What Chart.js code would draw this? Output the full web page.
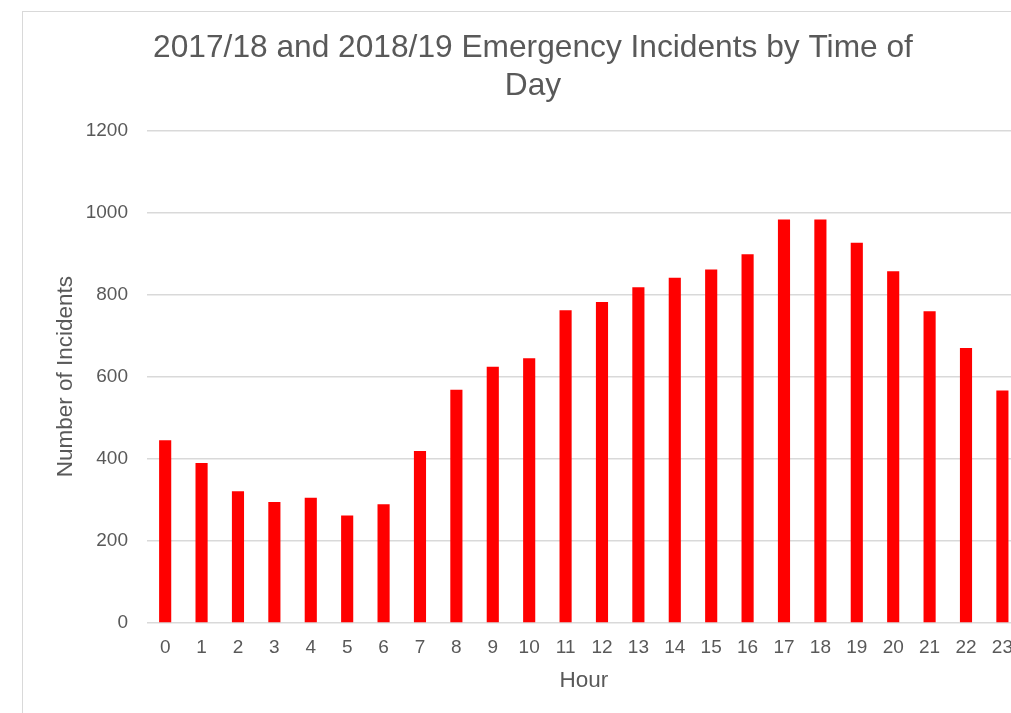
<!DOCTYPE html>
<html lang="en">
  <head>
    <meta charset="UTF-8" />
    <title>Emergency Incidents by Time of Day</title>
    <script src="https://cdn.jsdelivr.net/npm/chart.js@4.4.1/dist/chart.umd.min.js"></script>
    <style>
      html, body { margin: 0; padding: 0; background: #fff; overflow: hidden; }
      #frame {
        position: absolute;
        left: 22px;
        top: 11px;
        width: 1100px;
        height: 800px;
        border-left: 1px solid #d9d9d9;
        border-top: 1px solid #d9d9d9;
      }
      canvas { display: block; }
    </style>
  </head>
  <body>
    <div id="frame">
      <canvas id="myChart" width="1024" height="720"></canvas>
    </div>
    <script>
      const hours = ["0","1","2","3","4","5","6","7","8","9","10","11","12","13","14","15","16","17","18","19","20","21","22","23"]
      const incidents = [445, 390, 321, 295, 305, 262, 289, 419, 568, 624, 645, 762, 782, 818, 841, 861, 898, 983, 983, 926, 857, 759, 670, 566]
      const yTicks = [0, 200, 400, 600, 800, 1000, 1200]

      const grey = "#595959"
      const family = "'Liberation Sans', Arial, sans-serif"

      const ctx = document.getElementById("myChart").getContext("2d")
      const myChart = new Chart(ctx, {
        type: "bar",
        data: {
          labels: hours,
          datasets: [
            {
              label: "Incidents",
              data: incidents,
              backgroundColor: "#ff0000",
              borderWidth: 0,
              barPercentage: 1 / 3,
              categoryPercentage: 1,
            },
          ],
        },
        options: {
          responsive: false,
          animation: false,
          layout: { padding: { left: 22.4, right: 26.4, top: 0, bottom: 37.9 } },
          plugins: {
            legend: { display: false },
            tooltip: { enabled: false },
            title: {
              display: true,
              text: ["2017/18 and 2018/19 Emergency Incidents by Time of", "Day"],
              color: grey,
              font: { family, size: 31.7, weight: "normal", lineHeight: 1.18 },
              padding: { top: 17.9, bottom: 25.6 },
            },
          },
          scales: {
            x: {
              grid: { display: false, drawTicks: false },
              border: { display: false },
              ticks: { color: grey, font: { family, size: 19 }, padding: 13.6, maxRotation: 0, autoSkip: false },
              // tick padding is reserved twice in the axis height, so the title pulls back in
              title: {
                display: true,
                text: "Hour",
                color: grey,
                font: { family, size: 22.5, lineHeight: 1.2 },
                padding: { top: -5.9, bottom: 0 },
              },
            },
            y: {
              min: yTicks[0],
              max: yTicks[yTicks.length - 1],
              afterBuildTicks: (scale) => { scale.ticks = yTicks.map((v) => ({ value: v })) },
              grid: { color: "#d9d9d9", lineWidth: 1.5, drawTicks: false },
              border: { display: false },
              ticks: { color: grey, font: { family, size: 19 }, padding: 19, callback: (v) => String(v) },
              title: {
                display: true,
                text: "Number of Incidents",
                color: grey,
                font: { family, size: 22.5, lineHeight: 1.2 },
                padding: { top: 7.1, bottom: -12.8 },
              },
            },
          },
        },
      })
    </script>
  </body>
</html>
